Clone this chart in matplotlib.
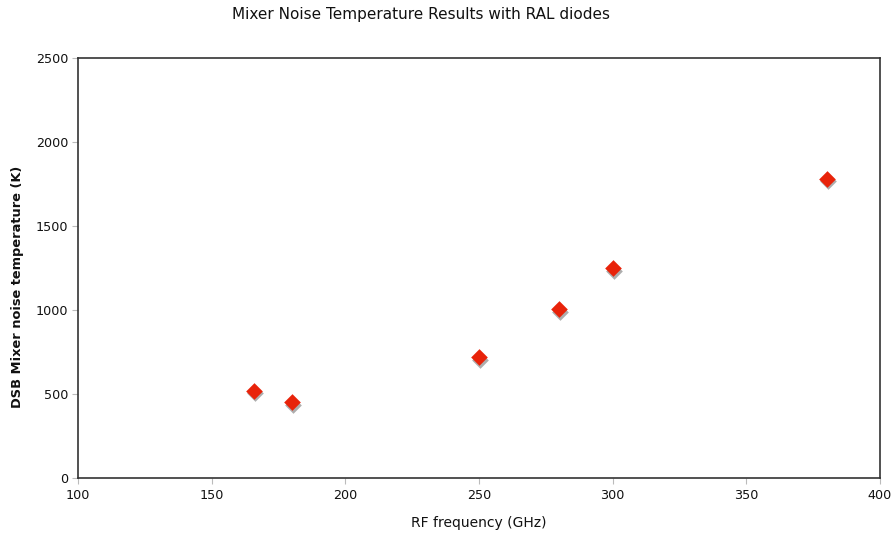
import matplotlib
matplotlib.use("Agg")
import matplotlib.pyplot as plt
import matplotlib.transforms as mtransforms

freq_ghz = [166, 180, 250, 280, 300, 380]
noise_temp_k = [520, 450, 720, 1005, 1250, 1780]
x_ticks = [100, 150, 200, 250, 300, 350, 400]
y_ticks = [0, 500, 1000, 1500, 2000, 2500]

fig = plt.figure(figsize=(8.96, 5.33), dpi=100)
ax = fig.add_axes([78/896, 55/533, (880-78)/896, (478-58)/533])

shadow = mtransforms.offset_copy(ax.transData, fig=fig, x=1.0, y=-2.5, units='dots')
ax.scatter(freq_ghz, noise_temp_k, marker='D', s=72, color='#8a8a8a', alpha=0.7,
           linewidths=0, transform=shadow, zorder=2)
ax.scatter(freq_ghz, noise_temp_k, marker='D', s=72, color='#e8230a',
           linewidths=0, zorder=3)

ax.set_xlim(100, 400)
ax.set_ylim(0, 2500)
ax.set_xticks(x_ticks)
ax.set_yticks(y_ticks)
for s in ax.spines.values():
    s.set_color('#333333')
    s.set_linewidth(1.2)
ax.tick_params(axis='both', direction='out', length=4, width=0.8, color='#bbbbbb',
               labelsize=9.2, labelcolor='#111111', pad=4)
ax.tick_params(axis='y', pad=3)

ax.set_xlabel('RF frequency (GHz)', fontsize=10, color='#111111', labelpad=10)
ax.set_ylabel('DSB Mixer noise temperature (K)', fontsize=9.4, fontweight='bold',
              color='#111111')
ax.yaxis.set_label_coords(-0.067, 0.454)
fig.text(421/896, 1 - 15/533, 'Mixer Noise Temperature Results with RAL diodes',
         ha='center', va='center', fontsize=11, color='#111111')

fig.savefig('out.png', dpi=100)
